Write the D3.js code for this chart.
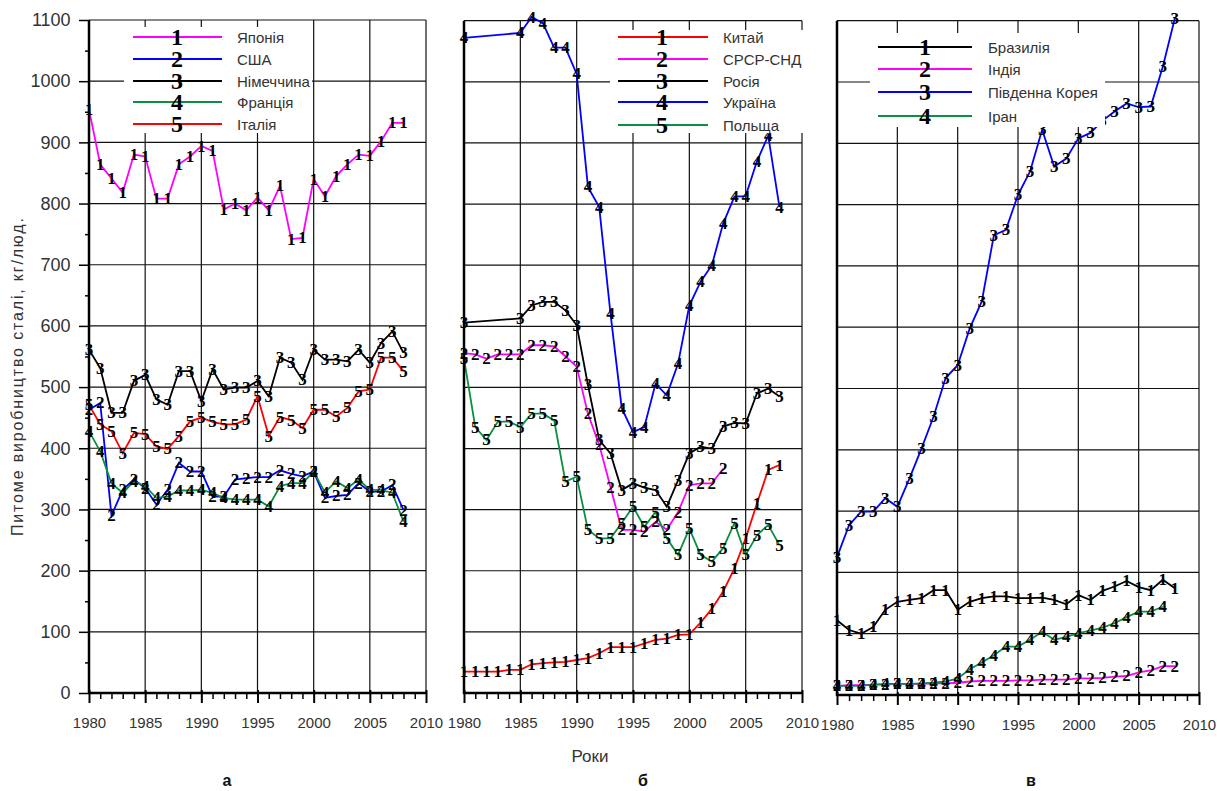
<!DOCTYPE html>
<html><head><meta charset="utf-8">
<script src="https://cdn.jsdelivr.net/npm/d3@7/dist/d3.min.js"></script>
<style>
html,body{margin:0;padding:0;background:#fff;}
svg{display:block;}
</style></head>
<body>
<svg id="chart" width="1217" height="791"></svg>
<script>
// ---------- DATA ----------
const yearsFull = [1980,1981,1982,1983,1984,1985,1986,1987,1988,1989,1990,1991,1992,1993,1994,1995,1996,1997,1998,1999,2000,2001,2002,2003,2004,2005,2006,2007,2008];
const yearsUSSR = [1980,1981,1982,1983,1984,1985,1986,1987,1988,1989,1990,1991,1992,1993,1994,1995,1996,1997,1998,1999,2000,2001,2002,2003];
const yearsUkrRus = [1980,1985,1986,1987,1988,1989,1990,1991,1992,1993,1994,1995,1996,1997,1998,1999,2000,2001,2002,2003,2004,2005,2006,2007,2008];
const yearsIran = [1980,1981,1982,1983,1984,1985,1986,1987,1988,1989,1990,1991,1992,1993,1994,1995,1996,1997,1998,1999,2000,2001,2002,2003,2004,2005,2006,2007];

// panel а
const japan   = [954,864,841,818,880,877,808,808,864,877,894,886,790,800,789,810,789,829,742,744,840,812,845,864,880,878,902,932,932];
const usa     = [463,474,290,332,349,335,308,332,376,362,362,321,321,349,351,353,353,364,358,354,362,319,322,324,343,329,329,340,299];
const germany = [561,531,458,458,510,520,480,471,526,526,477,529,496,499,499,510,485,548,540,512,561,545,545,542,561,540,572,591,556];
const france  = [428,395,343,327,346,338,319,321,331,331,332,327,319,316,316,316,305,338,343,343,362,328,346,335,349,332,332,327,280];
const italy   = [471,439,428,392,425,423,403,399,420,444,450,443,439,439,447,485,420,451,446,433,463,463,452,466,493,496,548,548,526];

// panel б
const china   = [35,35,35,35,38,38,47,49,50,51,54,57,65,75,75,75,81,87,89,95,96,115,138,166,204,253,310,365,373];
const ussrCis = [556,554,547,554,554,554,569,569,567,551,534,457,406,337,267,267,264,280,267,296,340,343,343,367];
const russia  = [606,613,634,640,640,626,602,504,414,392,332,343,336,332,305,348,392,403,400,436,442,441,490,498,485];
const ukraine = [1072,1080,1106,1096,1056,1056,1013,828,795,621,466,427,435,506,487,539,634,673,700,768,812,813,870,912,795];
const poland  = [547,435,414,444,444,435,457,457,446,346,354,267,253,253,278,305,272,296,253,226,269,226,215,237,278,226,258,275,242];

// panel в
const brazil  = [122,106,100,111,139,152,155,158,171,171,139,152,158,161,161,158,158,159,155,148,163,155,170,177,186,176,171,188,174];
const india   = [15,16,16,17,17,18,18,18,19,19,20,22,23,23,23,24,24,25,25,25,27,27,28,30,31,37,40,47,47];
const korea   = [225,277,299,299,321,307,353,402,454,517,538,598,642,750,759,816,854,922,862,875,908,917,937,952,965,959,960,1025,1104];
const iran    = [15,15,15,17,18,18,18,19,20,22,27,42,53,65,79,79,90,103,90,95,101,105,110,117,127,136,136,144];

const xTicks = [1980,1985,1990,1995,2000,2005,2010];
const yTicks = [0,100,200,300,400,500,600,700,800,900,1000,1100];
const yTitle = "Питоме виробництво сталі, кг/люд.";
const xTitle = "Роки";
const panelLetters = ["а","б","в"];

const MAGENTA="#ff00ff", BLUE="#0000ff", BLACK="#000000", GREEN="#0a9040", RED="#ff0000";

const panels = [
  { letter: panelLetters[0], letterX:227, xr:[89,426], yr:[693,20], yLabels:true, xTitle:false,
    legend:{box:[124,27,312,133], lx:[133,222], nx:177, tx:237, rows:[37,59,81,102,124]},
    series:[
      {n:"1", name:"Японія",    color:MAGENTA, years:yearsFull, vals:japan},
      {n:"2", name:"США",       color:BLUE,    years:yearsFull, vals:usa},
      {n:"3", name:"Німеччина", color:BLACK,   years:yearsFull, vals:germany},
      {n:"4", name:"Франція",   color:GREEN,   years:yearsFull, vals:france},
      {n:"5", name:"Італія",    color:RED,     years:yearsFull, vals:italy}
    ]},
  { letter: panelLetters[1], letterX:643, xr:[464,802], yr:[693,20.7], yLabels:false, xTitle:true,
    legend:{box:[610,30,806,133], lx:[618,708], nx:662, tx:723, rows:[37,59,81,102,125]},
    series:[
      {n:"1", name:"Китай",     color:RED,     years:yearsFull, vals:china},
      {n:"2", name:"СРСР-СНД",  color:MAGENTA, years:yearsUSSR, vals:ussrCis},
      {n:"3", name:"Росія",     color:BLACK,   years:yearsUkrRus, vals:russia},
      {n:"4", name:"Україна",   color:BLUE,    years:yearsUkrRus, vals:ukraine},
      {n:"5", name:"Польща",    color:GREEN,   years:yearsFull, vals:poland}
    ]},
  { letter: panelLetters[2], letterX:1031, xr:[837,1199], yr:[695,20.7], yLabels:false, xTitle:false,
    legend:{box:[870,33,1105,127], lx:[878,972], nx:925, tx:988, rows:[47,69,92,116]},
    series:[
      {n:"1", name:"Бразилія",       color:BLACK,   years:yearsFull, vals:brazil},
      {n:"2", name:"Індія",          color:MAGENTA, years:yearsFull, vals:india},
      {n:"3", name:"Південна Корея", color:BLUE,    years:yearsFull, vals:korea},
      {n:"4", name:"Іран",           color:GREEN,   years:yearsIran, vals:iran}
    ]}
];

const svg = d3.select("#chart");
const SANS = "'Liberation Sans', Arial, sans-serif";
const SERIF = "'Liberation Serif', 'Times New Roman', serif";

panels.forEach(p => {
  const x = d3.scaleLinear().domain([1980,2010]).range(p.xr);
  const y = d3.scaleLinear().domain([0,1100]).range(p.yr);
  const g = svg.append("g");

  // grid
  g.append("g").selectAll("line").data(xTicks.slice(1)).join("line")
    .attr("x1", d=>x(d)).attr("x2", d=>x(d)).attr("y1", y(0)).attr("y2", y(1100))
    .attr("stroke","#111").attr("stroke-width",1.2);
  g.append("g").selectAll("line").data(yTicks.slice(1)).join("line")
    .attr("x1", x(1980)).attr("x2", x(2010)).attr("y1", d=>y(d)).attr("y2", d=>y(d))
    .attr("stroke","#111").attr("stroke-width",1.2);

  // x axis ticks
  const xAxisMajor = d3.axisBottom(x).tickValues(xTicks).tickSize(10).tickFormat(d3.format("d"));
  const xa = g.append("g").attr("transform",`translate(0,${y(0)})`).call(xAxisMajor);
  xa.select(".domain").remove();
  xa.selectAll(".tick line").attr("stroke","#000").attr("stroke-width",2).attr("y1",-3);
  xa.selectAll(".tick text").attr("font-family",SANS).attr("font-size",15).attr("fill","#333").attr("dy","1.45em");
  const minorYears = yearsFull.filter(d=>d%5!==0).concat([2009]);
  const xm = g.append("g").attr("transform",`translate(0,${y(0)})`)
    .call(d3.axisBottom(x).tickValues(minorYears).tickSize(6).tickFormat(""));
  xm.select(".domain").remove();
  xm.selectAll(".tick line").attr("stroke","#000").attr("stroke-width",1.5);

  // y axis ticks (panel а only)
  if (p.yLabels) {
    const ya = g.append("g").attr("transform",`translate(${x(1980)},0)`)
      .call(d3.axisLeft(y).tickValues(yTicks).tickSize(10).tickFormat(d3.format("d")));
    ya.select(".domain").remove();
    ya.selectAll(".tick line").attr("stroke","#000").attr("stroke-width",1.5);
    ya.selectAll(".tick text").attr("font-family",SANS).attr("font-size",18).attr("fill","#333").attr("dx","-0.3em");
    const minorY = yTicks.slice(0,-1).map(d=>d+50);
    const ym = g.append("g").attr("transform",`translate(${x(1980)},0)`)
      .call(d3.axisLeft(y).tickValues(minorY).tickSize(4).tickFormat(""));
    ym.select(".domain").remove();
    ym.selectAll(".tick line").attr("stroke","#000").attr("stroke-width",1.5);
  }

  // series lines
  const line = d3.line().x(d=>x(d[0])).y(d=>y(d[1]));
  p.series.forEach(s => {
    const pts = s.years.map((yr,i)=>[yr, s.vals[i]]);
    g.append("path").datum(pts).attr("d", line)
      .attr("fill","none").attr("stroke", s.color).attr("stroke-width",1.8);
  });
  // markers (digits)
  p.series.forEach(s => {
    const pts = s.years.map((yr,i)=>[yr, s.vals[i]]);
    g.append("g").selectAll("text").data(pts).join("text")
      .attr("x", d=>x(d[0])).attr("y", d=>y(d[1]))
      .attr("text-anchor","middle").attr("dominant-baseline","central")
      .attr("font-family",SERIF).attr("font-weight","bold").attr("font-size",17)
      .attr("fill","#000").text(s.n);
  });

  // axes lines (left & bottom)
  g.append("line").attr("x1",x(1980)).attr("x2",x(1980)).attr("y1",y(0)+1).attr("y2",y(1100))
    .attr("stroke","#000").attr("stroke-width",2.5);
  g.append("line").attr("x1",x(1980)-1).attr("x2",x(2010)+1).attr("y1",y(0)).attr("y2",y(0))
    .attr("stroke","#000").attr("stroke-width",2.5);

  // legend
  const L = p.legend;
  const lg = g.append("g");
  lg.append("rect").attr("x",L.box[0]).attr("y",L.box[1])
    .attr("width",L.box[2]-L.box[0]).attr("height",L.box[3]-L.box[1]).attr("fill","#fff");
  p.series.forEach((s,i) => {
    const ry = L.rows[i];
    lg.append("line").attr("x1",L.lx[0]).attr("x2",L.lx[1]).attr("y1",ry).attr("y2",ry)
      .attr("stroke",s.color).attr("stroke-width",2.2);
    lg.append("text").attr("x",L.nx).attr("y",ry).attr("text-anchor","middle")
      .attr("dominant-baseline","central").attr("font-family",SERIF).attr("font-weight","bold")
      .attr("font-size",24).attr("fill","#000").text(s.n);
    lg.append("text").attr("x",L.tx).attr("y",ry).attr("dominant-baseline","central")
      .attr("font-family",SANS).attr("font-size",15).attr("fill","#333").text(s.name);
  });

  // panel letter
  svg.append("text").attr("x", p.letterX).attr("y",780)
    .attr("text-anchor","middle").attr("dominant-baseline","central").attr("font-family",SANS).attr("font-weight","bold")
    .attr("font-size",16).attr("fill","#111").text(p.letter);

  if (p.xTitle) {
    svg.append("text").attr("x", 590).attr("y",762).attr("text-anchor","middle")
      .attr("font-family",SANS).attr("font-size",17).attr("fill","#333").text(xTitle);
  }
});

// y axis title
svg.append("text").attr("transform","translate(23,377) rotate(-90)")
  .attr("text-anchor","middle").attr("font-family",SANS).attr("font-size",16)
  .attr("textLength",318).attr("lengthAdjust","spacing")
  .attr("fill","#333").text(yTitle);
</script>
</body></html>
